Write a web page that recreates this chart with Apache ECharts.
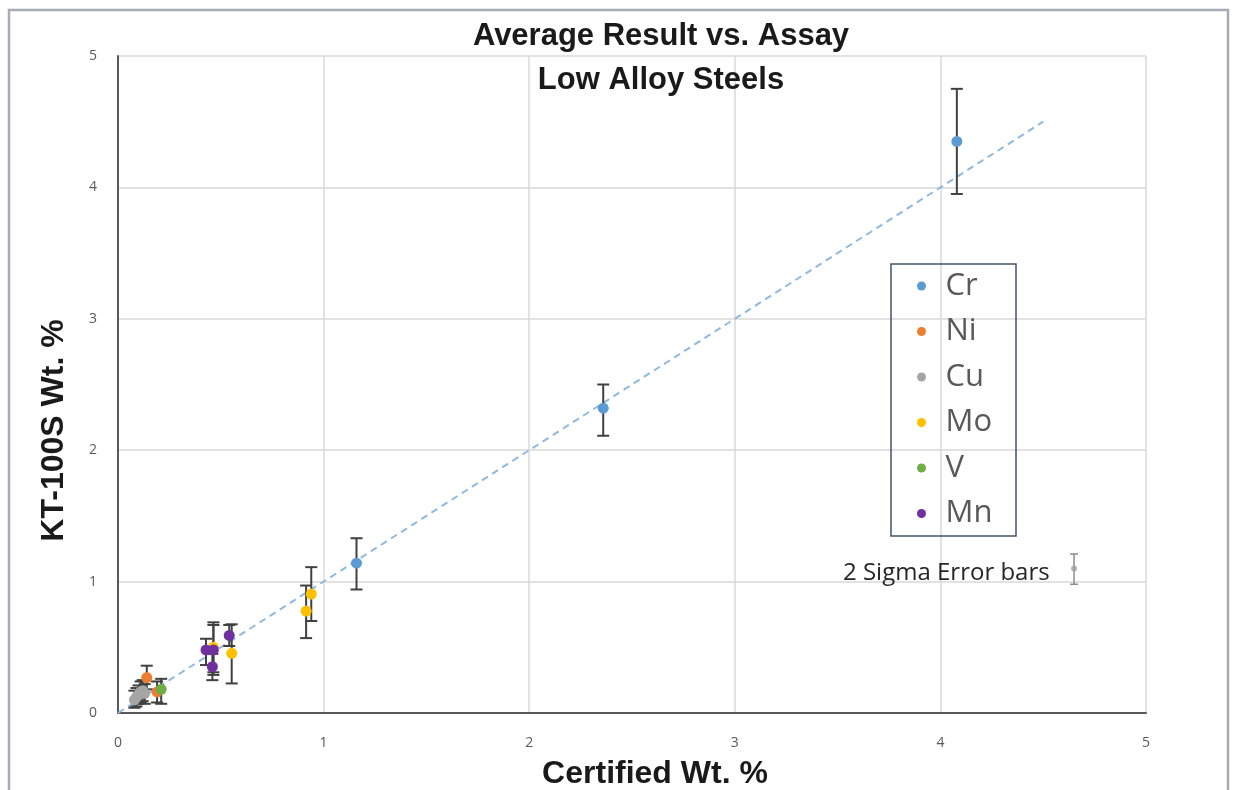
<!DOCTYPE html>
<html>
<head>
<meta charset="utf-8">
<style>
  html, body { margin: 0; padding: 0; background: #ffffff; }
  #chart { width: 1237px; height: 790px; }
</style>
<script src="https://cdn.jsdelivr.net/npm/echarts@6/dist/echarts.min.js"></script>
</head>
<body>
<div id="chart"></div>
<script>
// ---- data: [certified, measured, errLow, errHigh] ----
const seriesNames = ['Cr', 'Ni', 'Cu', 'Mo', 'V', 'Mn'];
const seriesColors = ['#5b9bd5', '#ed7d31', '#a5a5a5', '#ffc000', '#70ad47', '#7030a0'];
const crData = [[1.16, 1.14, 0.94, 1.33], [2.36, 2.32, 2.11, 2.50], [4.08, 4.35, 3.95, 4.75]];
const niData = [[0.14, 0.27, 0.18, 0.36], [0.19, 0.16, 0.08, 0.24]];
const cuData = [[0.08, 0.10, 0.04, 0.17], [0.09, 0.12, 0.05, 0.19], [0.10, 0.14, 0.07, 0.21],
                [0.11, 0.16, 0.08, 0.24], [0.12, 0.17, 0.09, 0.25], [0.13, 0.15, 0.07, 0.22]];
const moData = [[0.464, 0.50, 0.31, 0.69], [0.553, 0.454, 0.225, 0.675], [0.915, 0.776, 0.57, 0.97], [0.94, 0.905, 0.70, 1.11]];
const vData = [[0.21, 0.18, 0.07, 0.26]];
const mnData = [[0.428, 0.48, 0.365, 0.565], [0.464, 0.48, 0.29, 0.67], [0.459, 0.352, 0.25, 0.45], [0.541, 0.59, 0.51, 0.67]];
const trendLine = [[0, 0], [4.5, 4.5]];
const sampleBar = [[4.65, 1.10, 0.98, 1.21]];
const xTicks = [0, 1, 2, 3, 4, 5];
const yTicks = [0, 1, 2, 3, 4, 5];

const allData = [crData, niData, cuData, moData, vData, mnData];

function errRender(color, capHalf, lw) {
  return function (params, api) {
    const x = api.value(0), lo = api.value(1), hi = api.value(2);
    const p1 = api.coord([x, lo]), p2 = api.coord([x, hi]);
    const st = { stroke: color, lineWidth: lw };
    return {
      type: 'group',
      children: [
        { type: 'line', shape: { x1: p1[0], y1: p1[1], x2: p2[0], y2: p2[1] }, style: st },
        { type: 'line', shape: { x1: p1[0] - capHalf, y1: p1[1], x2: p1[0] + capHalf, y2: p1[1] }, style: st },
        { type: 'line', shape: { x1: p2[0] - capHalf, y1: p2[1], x2: p2[0] + capHalf, y2: p2[1] }, style: st }
      ]
    };
  };
}

const errorData = [];
allData.forEach(arr => arr.forEach(d => errorData.push([d[0], d[2], d[3]])));

const series = [];
series.push({
  type: 'line', data: trendLine, symbol: 'none', silent: true, z: 1,
  lineStyle: { color: '#8fb9e0', width: 2, type: [7, 5] }
});
series.push({
  type: 'custom', name: 'errors', data: errorData, z: 2, silent: true,
  renderItem: errRender('#404040', 6, 2),
  encode: { x: 0, y: [1, 2] }
});
seriesNames.forEach((n, i) => {
  series.push({
    type: 'scatter', name: n, data: allData[i].map(d => [d[0], d[1]]),
    symbolSize: 11, z: 3 + i,
    itemStyle: { color: seriesColors[i], opacity: 1 }
  });
});
series.push({
  type: 'custom', name: 'sample', data: sampleBar.map(d => [d[0], d[2], d[3]]), z: 2, silent: true,
  renderItem: errRender('#8c8c8c', 4, 1.5),
  encode: { x: 0, y: [1, 2] }
});
series.push({
  type: 'scatter', name: 'sampleDot', data: sampleBar.map(d => [d[0], d[1]]), symbolSize: 6, z: 3,
  itemStyle: { color: '#a0a0a0' }, silent: true
});

const boldFont = 'Liberation Sans, Arial, sans-serif';
const chart = echarts.init(document.getElementById('chart'));
chart.setOption({
  animation: false,
  backgroundColor: '#ffffff',
  title: {
    text: 'Average Result vs. Assay\nLow Alloy Steels',
    left: 656, top: 9, textAlign: 'center',
    textStyle: { fontFamily: boldFont, fontSize: 31, fontWeight: 'bold', color: '#1a1a1a', lineHeight: 44 }
  },
  grid: { left: 118, right: 91, top: 56, bottom: 77, containLabel: false, outerBoundsMode: 'none' },
  legend: {
    data: seriesNames, orient: 'vertical', left: 917, top: 269,
    icon: 'circle', itemWidth: 38, itemHeight: 9, itemGap: 11.5,
    textStyle: { fontFamily: 'Open Sans, Lato, sans-serif', fontSize: 31, color: '#595959', lineHeight: 34 },
    padding: 0, selectedMode: false
  },
  xAxis: {
    type: 'value', min: 0, max: 5, interval: 1,
    name: 'Certified Wt. %', nameLocation: 'middle', nameGap: 45,
    nameTextStyle: { fontFamily: boldFont, fontSize: 32, fontWeight: 'bold', color: '#1a1a1a', padding: [0, 0, 0, 46] },
    axisLine: { show: true, onZero: false, lineStyle: { color: '#595959', width: 2 } },
    axisTick: { show: false },
    axisLabel: { fontFamily: 'Open Sans, Lato, sans-serif', fontSize: 14, color: '#595959', margin: 23,
      formatter: v => xTicks.includes(v) ? String(v) : '' },
    splitLine: { show: true, lineStyle: { color: '#d9d9d9', width: 1.5 } }
  },
  yAxis: {
    type: 'value', min: 0, max: 5, interval: 1,
    name: 'KT-100S Wt. %', nameLocation: 'middle', nameGap: 48, nameRotate: 90,
    nameTextStyle: { fontFamily: boldFont, fontSize: 32, fontWeight: 'bold', color: '#1a1a1a', padding: [0, 92, 0, 0] },
    axisLine: { show: true, onZero: false, lineStyle: { color: '#595959', width: 2 } },
    axisTick: { show: false },
    axisLabel: { fontFamily: 'Open Sans, Lato, sans-serif', fontSize: 14, color: '#595959', margin: 21,
      formatter: v => yTicks.includes(v) ? String(v) : '' },
    splitLine: { show: true, lineStyle: { color: '#d9d9d9', width: 1.5 } }
  },
  graphic: [
    { type: 'polyline', z: 100, silent: true,
      shape: { points: [[9, 790], [9, 10], [1228, 10], [1228, 790]] },
      style: { stroke: '#a6acb5', lineWidth: 2.5, fill: null } },
    { type: 'rect', z: 100, silent: true,
      shape: { x: 891, y: 264, width: 125, height: 272 },
      style: { stroke: '#44546a', lineWidth: 1.5, fill: null } },
    { type: 'text', z: 100, silent: true, left: 843, top: 561,
      style: { text: '2 Sigma Error bars', fontFamily: 'Open Sans, Lato, sans-serif', fontSize: 24, fill: '#262626' } }
  ],
  series: series
});
</script>
</body>
</html>
